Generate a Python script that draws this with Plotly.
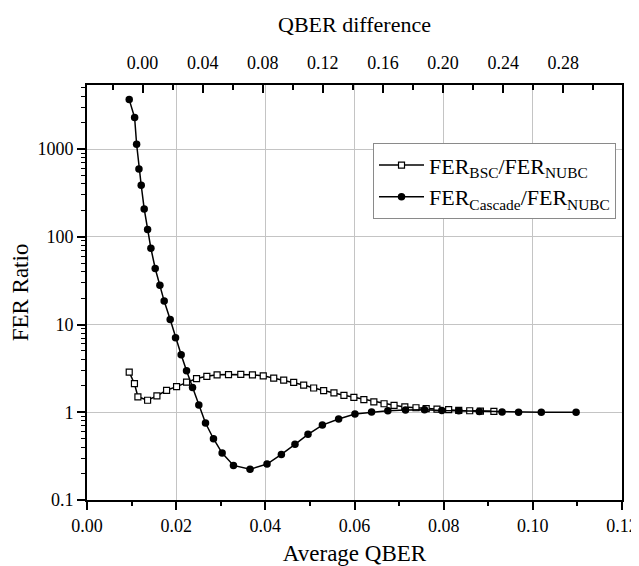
import plotly.graph_objects as go

# Average QBER (x) and FER ratio values
bsc_x = [0.00947, 0.01064, 0.01142, 0.01359, 0.01568, 0.01785, 0.02009, 0.02233, 0.02457,
         0.02688, 0.02918, 0.03174, 0.03449, 0.03711, 0.03953, 0.04188, 0.04412, 0.04636,
         0.0486, 0.05084, 0.05308, 0.05539, 0.05763, 0.05986, 0.0621, 0.06434, 0.06663,
         0.06887, 0.07129, 0.07379, 0.07608, 0.0785, 0.08112, 0.08338, 0.08584, 0.08824,
         0.09126]
bsc_y = [2.87, 2.12, 1.50, 1.37, 1.54, 1.78, 1.96, 2.20, 2.42, 2.57, 2.67, 2.69, 2.70, 2.67,
         2.60, 2.45, 2.32, 2.19, 2.04, 1.89, 1.76, 1.66, 1.56, 1.48, 1.39, 1.31, 1.25, 1.20,
         1.15, 1.125, 1.10, 1.085, 1.07, 1.05, 1.04, 1.03, 1.025]

cas_x = [0.00947, 0.01068, 0.01113, 0.01165, 0.01216, 0.01283, 0.01359, 0.01433, 0.0153,
         0.01635, 0.01731, 0.01866, 0.01986, 0.02112, 0.02233, 0.02367, 0.02508, 0.02658,
         0.02837, 0.03031, 0.03285, 0.03657, 0.04038, 0.0436, 0.04665, 0.04957, 0.05279,
         0.05644, 0.0601, 0.06383, 0.06748, 0.07144, 0.0757, 0.07958, 0.08339, 0.0880,
         0.0931, 0.0968, 0.1019, 0.1097]
cas_y = [3660, 2285, 1135, 593, 387, 208, 121, 74, 43.5, 28.1, 18.5, 11.4, 7.06, 4.52, 2.97,
         1.92, 1.21, 0.753, 0.499, 0.343, 0.248, 0.224, 0.257, 0.331, 0.431, 0.56, 0.714,
         0.837, 0.953, 1.005, 1.04, 1.06, 1.07, 1.05, 1.04, 1.02, 1.01, 1.0, 1.0, 1.0]

bottom_ticks = [0.00, 0.02, 0.04, 0.06, 0.08, 0.10, 0.12]
top_ticks = [0.00, 0.04, 0.08, 0.12, 0.16, 0.20, 0.24, 0.28]
top_minor = [-0.02, 0.02, 0.06, 0.10, 0.14, 0.18, 0.22, 0.26, 0.30]
y_ticks = [0.1, 1, 10, 100, 1000]
y_ticktext = ["0.1", "1", "10", "100", "1000"]

FONT = "Liberation Serif, Times New Roman, serif"
grid = "#c4c4c4"


def f(size):
    return dict(family=FONT, size=size, color="black")


fig = go.Figure()
fig.add_trace(go.Scatter(
    x=bsc_x, y=bsc_y, mode="lines+markers",
    name="FER<sub>BSC</sub>/FER<sub>NUBC</sub>",
    line=dict(color="black", width=1.5),
    marker=dict(symbol="square", size=6, color="white", line=dict(color="black", width=1.2)),
))
fig.add_trace(go.Scatter(
    x=cas_x, y=cas_y, mode="lines+markers",
    name="FER<sub>Cascade</sub>/FER<sub>NUBC</sub>",
    line=dict(color="black", width=1.5),
    marker=dict(symbol="circle", size=7.5, color="black"),
))
# empty trace to register the top axis
fig.add_trace(go.Scatter(x=[], y=[], xaxis="x2", yaxis="y", showlegend=False, hoverinfo="skip"))

# the page body has an 8px default margin, so the figure is sized to fit the window
fig.update_layout(
    width=631, height=558,
    margin=dict(l=79, r=17, t=77, b=66),
    paper_bgcolor="white", plot_bgcolor="white",
    font=f(18),
    showlegend=True,
    legend=dict(
        x=0.5346, y=0.8596, xanchor="left", yanchor="top",
        bordercolor="#8a8a8a", borderwidth=1, bgcolor="white",
        font=f(22), itemwidth=45,
        tracegroupgap=0,
    ),
    xaxis=dict(
        range=[0, 0.12], tickvals=bottom_ticks, tickformat=".2f",
        showgrid=True, gridcolor=grid, gridwidth=1,
        showline=True, linecolor="black", linewidth=1.8, mirror=False,
        ticks="outside", ticklen=8, tickwidth=1.5, tickcolor="black",
        minor=dict(dtick=0.01, ticks="outside", ticklen=4, tickwidth=1.5, tickcolor="black", showgrid=False),
        tickfont=f(18), automargin=False,
        title=dict(text="Average QBER", font=f(23), standoff=14),
        zeroline=False,
    ),
    xaxis2=dict(
        range=[-0.037, 0.3191], overlaying="x", side="top", anchor="y",
        tickvals=top_ticks, tickformat=".2f",
        showgrid=False, showline=True, linecolor="black", linewidth=1.8,
        ticks="inside", ticklen=8, tickwidth=1.5, tickcolor="black",
        minor=dict(tickvals=top_minor,
                   ticks="inside", ticklen=5, tickwidth=1.5, tickcolor="black", showgrid=False),
        tickfont=f(18), automargin=False, ticklabelstandoff=7,
        title=dict(text="QBER difference", font=f(22), standoff=14),
        zeroline=False,
    ),
    yaxis=dict(
        type="log", range=[-1, 3.73],
        tickvals=y_ticks, ticktext=y_ticktext,
        showgrid=True, gridcolor=grid, gridwidth=1,
        showline=True, linecolor="black", linewidth=1.8, mirror=True,
        ticks="outside", ticklen=8, tickwidth=1.5, tickcolor="black",
        minor=dict(dtick="D1", ticks="outside", ticklen=4, tickwidth=1.2, tickcolor="black", showgrid=False),
        tickfont=f(18), automargin=False,
        title=dict(text="FER Ratio", font=f(23), standoff=10),
        zeroline=False,
    ),
)

fig.write_html("out.html")
